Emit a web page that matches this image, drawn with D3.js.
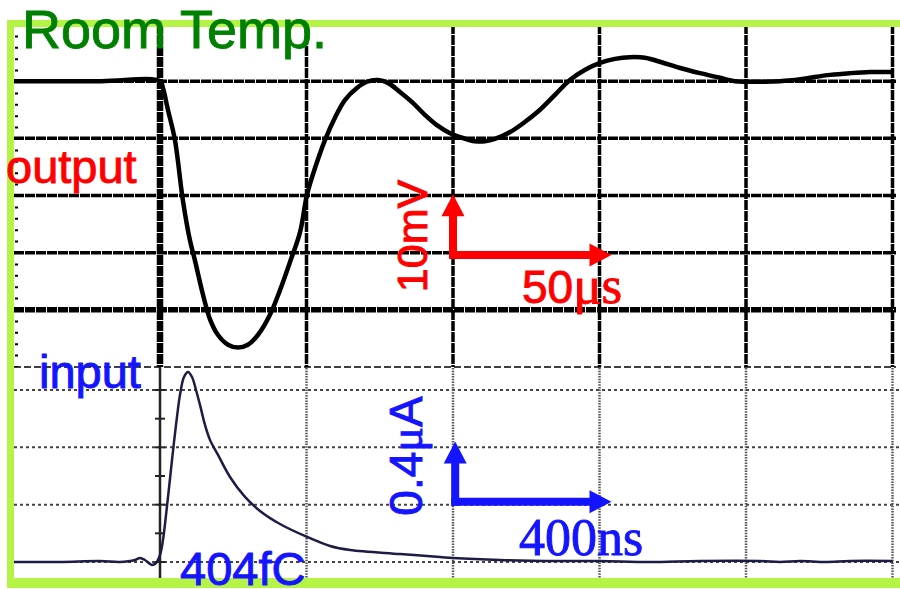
<!DOCTYPE html>
<html>
<head>
<meta charset="utf-8">
<script src="https://cdn.jsdelivr.net/npm/d3@7"></script>
<style>
  html, body { margin: 0; padding: 0; background: #fff; }
  svg { display: block; }
</style>
</head>
<body>
<div id="chart"></div>
<script>
// output trace (upper scope shot): time in us, amplitude in mV
let outTime = [-50, -20, 0, 1, 2.7, 5.1, 7.8, 10.2, 11.9, 14.7, 17.1, 19.8, 23.2, 26.6, 30, 33.4,
  37.5, 41, 44.4, 47.8, 50.2, 52.9, 56.3, 59.7, 63.1, 67.2, 70.6, 74.4, 77.8, 81.9, 86.3, 90.4,
  94.5, 99, 103.1, 107.5, 110.9, 114.3, 119.5, 124.6, 129.7, 134.8, 139.9, 145.1, 150.2, 155.3,
  160.4, 165.5, 170.6, 177.5, 184.3, 191.1, 196.2, 200.3, 206.5, 211.6, 216.7, 221.8, 228.7,
  235.5, 242.3, 250]
let outVolt = [40, 40, 40, 38.8, 35, 29.7, 19.2, 12.2, 8.7, 2.6, -1.7, -4.4, -6.1, -6.6, -6.1, -4.4,
  -0.9, 3.5, 8.4, 13.6, 20.2, 24.8, 29.7, 33.6, 36.7, 38.8, 39.9, 40.2, 39.7, 38.1, 36.2, 34.1,
  32.3, 30.9, 30.1, 29.5, 29.5, 29.9, 31.1, 32.9, 35, 37.6, 40.2, 42, 43.2, 43.9,
  44.2, 44.1, 43.4, 42.3, 41.4, 40.6, 40, 39.9, 39.9, 40, 40.2, 40.6, 41.1,
  41.4, 41.6, 41.6]

// input trace (lower scope shot): time in ns, current in uA
let inTime = [-400, -273, -164, -110, -68, -55, -41, -22, -11, 0, 8.2, 16.4, 24.6, 32.8, 43.7,
  54.6, 65.5, 76.5, 87.4, 98.3, 109.2, 122.9, 136.5, 158.4, 191.1, 232.1, 273, 327.6, 401.4,
  464.2, 519, 655.3, 764.5, 800, 928, 1092, 1200, 1337, 1474, 1638, 1693, 1747, 1816, 1884, 2000]
let inCurrent = [0, 0, 0.007, 0, 0.014, 0.028, 0.014, -0.021, -0.007, 0.049, 0.154, 0.328, 0.517, 0.712, 0.956,
  1.166, 1.291, 1.326, 1.291, 1.2, 1.096, 0.956, 0.852, 0.747, 0.593, 0.454, 0.356, 0.265, 0.175,
  0.112, 0.084, 0.056, 0.035, 0.028, 0.014, 0.007, 0.007, 0, 0.007, 0.007, 0, 0.007, 0, 0.007, 0.007]

// graticule positions
let outTimeTicks = [-50, 0, 50, 100, 150, 200, 250]
let outVoltTicks = [-10, 0, 10, 20, 30, 40, 50]
let inTimeTicks = [-400, 0, 400, 800, 1200, 1600, 2000]
let inCurrentTicks = [0, 0.4, 0.8, 1.2]
let inAxisMinorTicks = [0, 0.2, 0.4, 0.6, 0.8, 1.0, 1.2]

const W = 900
const H = 589
const SANS = "'Liberation Sans', Arial, sans-serif"
const SERIF = "'Liberation Serif', 'Times New Roman', serif"

let svg = d3.select('#chart').append('svg')
  .attr('width', W)
  .attr('height', H)

// both shots share the same pixel grid, just different units per division
let xOut = d3.scaleLinear().domain([-50, 250]).range([13.5, 892.5])
let yOut = d3.scaleLinear().domain([-10, 50]).range([367, 24])
let xIn = d3.scaleLinear().domain([-400, 2000]).range([13.5, 892.5])
let yIn = d3.scaleLinear().domain([0, 1.2]).range([562, 390])

let upperTop = yOut(50)
let upperBottom = yOut(-10)
let lowerBottom = 580

// ---- upper graticule (scanned, heavy lines)
let upper = svg.append('g').attr('class', 'upper-grid')

upper.selectAll('line.h')
  .data(outVoltTicks)
  .join('line')
    .attr('class', 'h')
    .attr('x1', 14).attr('x2', 896)
    .attr('y1', d => yOut(d)).attr('y2', d => yOut(d))
    .attr('stroke', '#000')
    .attr('stroke-width', d => d === 0 ? 5.5 : (d === -10 ? 1.5 : 3.5))
    .attr('stroke-dasharray', d => d === -10 ? '7,3' : '10,1')

upper.selectAll('line.v')
  .data(outTimeTicks.slice(1))
  .join('line')
    .attr('class', 'v')
    .attr('x1', d => xOut(d)).attr('x2', d => xOut(d))
    .attr('y1', upperTop).attr('y2', upperBottom)
    .attr('stroke', '#000')
    .attr('stroke-width', d => d === 0 ? 6.5 : 3.5)
    .attr('stroke-dasharray', '10,1')

// left edge ticks of the upper graticule
upper.append('line')
  .attr('x1', 16.5).attr('x2', 16.5)
  .attr('y1', upperTop).attr('y2', upperBottom)
  .attr('stroke', '#000')
  .attr('stroke-width', 3)
  .attr('stroke-dasharray', '2,9.4')

// ---- lower graticule (dotted)
let lower = svg.append('g').attr('class', 'lower-grid')

lower.selectAll('line.h')
  .data(inCurrentTicks)
  .join('line')
    .attr('class', 'h')
    .attr('x1', 14).attr('x2', 900)
    .attr('y1', d => yIn(d)).attr('y2', d => yIn(d))
    .attr('stroke', '#444')
    .attr('stroke-width', 2)
    .attr('stroke-dasharray', '3,3')

lower.selectAll('line.v')
  .data(inTimeTicks.filter(d => d > 0))
  .join('line')
    .attr('class', 'v')
    .attr('x1', d => xIn(d)).attr('x2', d => xIn(d))
    .attr('y1', upperBottom + 1).attr('y2', lowerBottom)
    .attr('stroke', '#555')
    .attr('stroke-width', 2.5)
    .attr('stroke-dasharray', '1.5,1.2')

// center axis of the lower shot, with its minor ticks
lower.append('line')
  .attr('x1', xIn(0)).attr('x2', xIn(0))
  .attr('y1', upperBottom).attr('y2', lowerBottom)
  .attr('stroke', '#222')
  .attr('stroke-width', 2.5)

lower.selectAll('line.tick')
  .data(inAxisMinorTicks)
  .join('line')
    .attr('class', 'tick')
    .attr('x1', xIn(0) - 5).attr('x2', xIn(0) + 5)
    .attr('y1', d => yIn(d)).attr('y2', d => yIn(d))
    .attr('stroke', '#222')
    .attr('stroke-width', 2)

// ---- traces
let outLine = d3.line()
  .x(i => xOut(outTime[i]))
  .y(i => yOut(outVolt[i]))
  .curve(d3.curveCatmullRom.alpha(0.5))

svg.append('path')
  .attr('d', outLine(d3.range(outTime.length)))
  .attr('fill', 'none')
  .attr('stroke', '#000')
  .attr('stroke-width', 4.5)
  .attr('stroke-linejoin', 'round')

let inLine = d3.line()
  .x(i => xIn(inTime[i]))
  .y(i => yIn(inCurrent[i]))
  .curve(d3.curveCatmullRom.alpha(0.5))

svg.append('path')
  .attr('d', inLine(d3.range(inTime.length)))
  .attr('fill', 'none')
  .attr('stroke', '#1c1c44')
  .attr('stroke-width', 2.5)
  .attr('stroke-linejoin', 'round')

// ---- green frame
let frame = svg.append('g').attr('fill', '#b5f446')
frame.append('rect').attr('x', 7).attr('y', 20).attr('width', W - 7).attr('height', 7)
frame.append('rect').attr('x', 7).attr('y', 20).attr('width', 7).attr('height', 568)
frame.append('rect').attr('x', 7).attr('y', 578).attr('width', W - 7).attr('height', 10)

// ---- scale bars
let arrow = (g, x0, y0, x1, y1, color, width) => {
  let ang = Math.atan2(y1 - y0, x1 - x0)
  let head = 22
  let half = 11.5
  let bx = x1 - head * Math.cos(ang)
  let by = y1 - head * Math.sin(ang)
  g.append('line')
    .attr('x1', x0).attr('y1', y0)
    .attr('x2', bx).attr('y2', by)
    .attr('stroke', color)
    .attr('stroke-width', width)
    .attr('stroke-linecap', 'square')
  let px = -Math.sin(ang) * half
  let py = Math.cos(ang) * half
  g.append('path')
    .attr('d', `M${x1},${y1}L${bx + px},${by + py}L${bx - px},${by - py}Z`)
    .attr('fill', color)
}

let bars = svg.append('g')
// output: 10mV / 50us
arrow(bars, xOut(100), yOut(9.6), xOut(150) + 12, yOut(9.6), '#ff0000', 8)
arrow(bars, xOut(100), yOut(9.6), xOut(100), yOut(20.2), '#ff0000', 8)
// input: 0.4uA / 400ns
arrow(bars, xIn(806), yIn(0.42), xIn(1200) + 12, yIn(0.42), '#1414ff', 8)
arrow(bars, xIn(806), yIn(0.42), xIn(806), yIn(0.84), '#1414ff', 8)

// ---- labels (a thin stroke in the fill colour gives the heavier look of the original)
let label = (txt, size, color, family) => svg.append('text')
  .style('font-family', family || SANS)
  .attr('font-size', size)
  .attr('fill', color)
  .attr('stroke', color)
  .attr('stroke-width', 0.9)
  .text(txt)

label('Room Temp.', 54, '#008000').attr('x', 22).attr('y', 48)
label('output', 47, '#ff0000').attr('x', 6).attr('y', 183)
label('input', 47, '#1414ff').attr('x', 39).attr('y', 388)

label('10mV', 43, '#ff0000')
  .attr('transform', 'translate(427,236) rotate(-90)')
  .attr('text-anchor', 'middle')

let us = label('50', 46, '#ff0000').attr('x', 522).attr('y', 303)
us.append('tspan').style('font-family', SERIF).attr('font-size', 53).text('μs')

let ua = label('0.4', 46, '#1414ff')
  .attr('transform', 'translate(422,456) rotate(-90)')
  .attr('text-anchor', 'middle')
ua.append('tspan').style('font-family', SERIF).text('μ')
ua.append('tspan').text('A')

label('400ns', 52, '#1414ff', SERIF).attr('x', 519).attr('y', 555)

label('404fC', 47, '#1414ff').attr('x', 180).attr('y', 585)
</script>
</body>
</html>
